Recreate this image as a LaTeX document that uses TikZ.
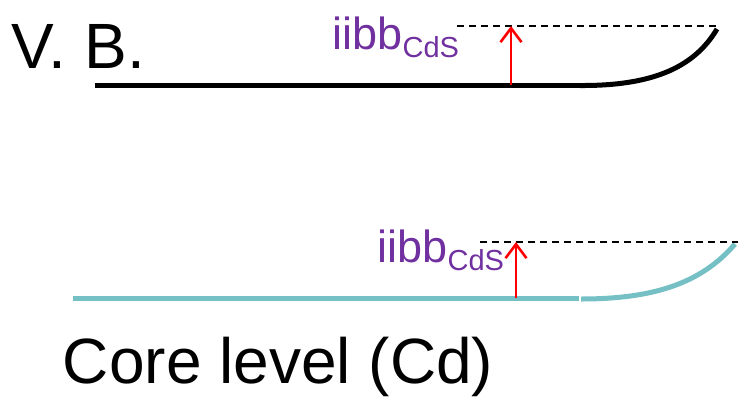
\documentclass[tikz,border=0pt]{standalone}
\usepackage{fontspec}
\setmainfont{Liberation Sans}
\usetikzlibrary{arrows.meta}
\definecolor{iibbpurple}{RGB}{112,48,160}
\definecolor{coreteal}{RGB}{116,192,196}
\begin{document}
\begin{tikzpicture}[x=1pt,y=-1pt,
  lbl/.style={inner sep=0pt,outer sep=0pt},
  biglbl/.style={lbl,font=\fontsize{64}{72}\selectfont},
  iibblbl/.style={lbl,text=iibbpurple,font=\fontsize{45}{50}\selectfont},
  level/.style={line width=5pt},
  refline/.style={black,line width=1.4pt,dash pattern=on 7pt off 5pt},
  shiftarrow/.style={red,line width=2.6pt,-{Straight Barb[length=14pt,width=21pt,line width=2.6pt]}}]
\useasboundingbox (0,0) rectangle (740,397);
% labels
\node[biglbl,anchor=base west] (vb) at (12,68) {V. B.};
\node[biglbl,anchor=base west] (core) at (63,383) {Core level (Cd)};
\node[iibblbl,anchor=base east] (iibbA) at (459,49) {iibb\raisebox{-8pt}{\fontsize{29}{32}\selectfont CdS}};
\node[iibblbl,anchor=base east] (iibbB) at (504,262) {iibb\raisebox{-8pt}{\fontsize{29}{32}\selectfont CdS}};
% top (valence band)
\coordinate (vbL) at (95,85);
\coordinate (vbM) at (580,85);
\coordinate (vbN) at (580,85.5);
\coordinate (vbR) at (717,29);
\coordinate (dA1) at (457,26);
\coordinate (dA2) at (720,26);
\coordinate (aA1) at (511,85);
\coordinate (aA2) at (511,26);
\draw[level,black] (vbL) -- (vbM);
\draw[level,black] (vbN) .. controls (655,86) and (695,66) .. (vbR);
\draw[refline] (dA1) -- (dA2);
\draw[shiftarrow] (aA1) -- (aA2);
% bottom (core level)
\coordinate (clL) at (73,298);
\coordinate (clM) at (579,298);
\coordinate (clN) at (581,299);
\coordinate (clR) at (735,244);
\coordinate (dB1) at (480,242);
\coordinate (dB2) at (738,242);
\coordinate (aB1) at (516,298);
\coordinate (aB2) at (516,242);
\draw[level,coreteal] (clL) -- (clM);
\draw[level,coreteal] (clN) .. controls (650,299) and (700,285) .. (clR);
\draw[refline] (dB1) -- (dB2);
\draw[shiftarrow] (aB1) -- (aB2);
\end{tikzpicture}
\end{document}
